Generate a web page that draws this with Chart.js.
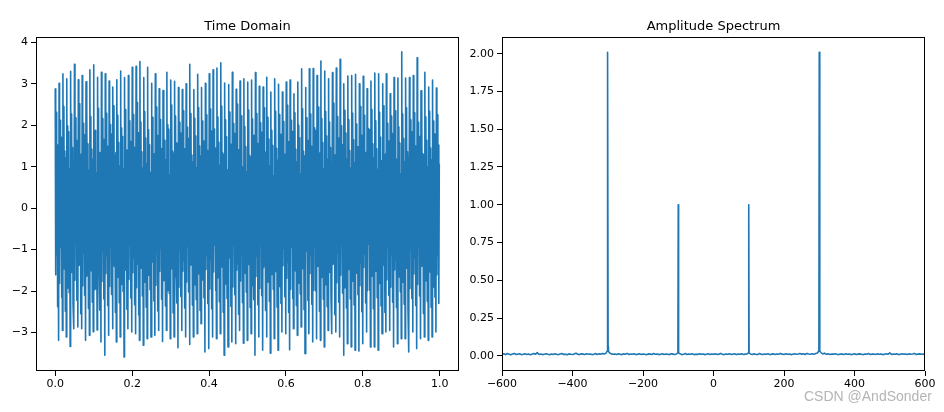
<!DOCTYPE html>
<html>
<head>
<meta charset="utf-8">
<script src="https://cdn.jsdelivr.net/npm/chart.js@4.4.0/dist/chart.umd.min.js"></script>
<style>
  body { margin: 0; background: #fff; }
  #wrap { position: relative; width: 944px; height: 412px; overflow: hidden; }
  .ttl { position: absolute; top: 17px; height: 18px; line-height: 18px; text-align: center;
         font-family: "DejaVu Sans", sans-serif; font-size: 13px; color: #000; }
  .box { position: absolute; top: 0; height: 412px; }
  #wm { position: absolute; left: 804px; top: 388px; font-family: "Liberation Sans", Arial, sans-serif;
        font-size: 14px; color: #b4b4b4; white-space: nowrap; }
</style>
</head>
<body>
<div id="wrap">
  <div class="box" style="left:0;width:470px"><canvas id="timeChart" width="470" height="412"></canvas></div>
  <div class="box" style="left:464px;width:480px"><canvas id="specChart" width="480" height="412"></canvas></div>
  <div class="ttl" style="left:36px;width:423px">Time Domain</div>
  <div class="ttl" style="left:502px;width:423px">Amplitude Spectrum</div>
  <div id="wm">CSDN @AndSonder</div>
</div>
<script>
// ---- time domain: one entry per 100 Hz cycle ----
const hiPeak = [
  2.88, 3.01, 3.24, 3.12, 3.30, 3.47, 3.10, 3.20, 3.05, 3.34, 3.46, 3.16, 3.28, 3.24, 3.07, 2.92, 3.10,
  3.31, 3.15, 3.20, 3.40, 3.42, 3.54, 3.15, 3.40, 3.01, 3.24, 2.88, 2.84, 3.28, 3.09, 3.06, 2.91,
  2.86, 3.00, 3.47, 2.86, 3.23, 2.91, 3.01, 3.24, 3.34, 3.38, 3.51, 3.02, 2.98, 3.28, 2.87, 3.07, 3.12,
  3.04, 3.09, 3.27, 2.94, 2.92, 3.16, 2.80, 3.12, 2.99, 2.80, 3.04, 3.09, 2.76, 3.04, 3.36, 2.91, 3.36,
  3.37, 3.20, 3.55, 3.31, 3.12, 3.27, 3.38, 3.59, 3.00, 3.19, 3.20, 3.23, 3.00, 3.18, 2.88, 3.07, 3.26,
  3.24, 3.00, 3.24, 2.76, 3.15, 3.14, 3.77, 3.14, 3.15, 3.20, 3.63, 2.83, 3.28, 2.92, 3.09, 2.90
];
const loPeak = [
  -3.19, -2.95, -3.11, -3.34, -2.91, -2.87, -2.91, -3.19, -3.07, -2.98, -2.94, -3.23, -3.55, -3.07,
  -2.91, -3.23, -3.11, -3.59, -2.91, -2.99, -3.03, -3.19, -3.31, -3.15, -3.11, -3.07, -2.95, -3.22,
  -2.95, -3.15, -3.11, -3.37, -2.95, -3.11, -3.29, -3.11, -3.03, -2.79, -3.47, -3.39, -3.11, -3.15,
  -3.03, -3.55, -3.35, -3.23, -3.27, -2.95, -3.26, -3.19, -3.03,
  -3.55, -3.11, -3.43, -3.11, -3.50, -3.15, -3.43, -2.99, -3.03, -3.42, -2.91, -3.07, -2.87, -3.51,
  -3.03, -3.23, -3.15, -3.19, -3.35, -2.95, -3.03, -2.99, -3.11, -3.55, -3.27, -3.35, -3.43, -3.45,
  -3.27, -2.99, -3.35, -3.35, -3.43, -3.03, -2.99, -2.95, -3.35, -3.27, -3.15, -3.15, -3.47, -2.99,
  -3.39, -3.15, -3.11, -3.19, -3.11, -2.99
];
const hiSecond = [
  2.31, 2.12, 2.45, 1.98, 2.27, 2.18, 2.52, 2.05, 2.36, 2.21, 1.86, 2.41, 2.16, 2.29, 2.02, 2.47, 2.24,
  1.93, 2.38, 2.11, 2.26, 2.55, 2.08, 2.33, 1.89, 2.19, 2.44, 2.14, 2.30, 2.01, 2.49, 2.22, 2.07, 2.35,
  1.95, 2.28, 2.17, 2.43, 2.10, 2.25, 2.39, 1.91, 2.20, 2.46, 2.13, 2.32, 2.04, 2.51, 2.23, 1.97, 2.37,
  2.15, 2.28, 2.06, 2.42, 2.19, 1.88, 2.34, 2.26, 2.09, 2.48, 2.12, 2.30, 2.00, 2.40, 2.18, 2.27, 1.94,
  2.44, 2.16, 2.33, 2.08, 2.53, 2.21, 1.99, 2.36, 2.14, 2.29, 2.03, 2.45, 2.24, 1.92, 2.38, 2.11, 2.31,
  2.47, 2.05, 2.22, 2.35, 1.96, 2.27, 2.42, 2.13, 2.30, 2.07, 2.50, 2.20, 2.34, 2.10, 2.25
];
const loSecond = [
  -2.38, -2.15, -2.49, -2.04, -2.31, -2.22, -2.55, -2.10, -2.42, -2.27, -1.95, -2.46, -2.19, -2.35,
  -2.08, -2.52, -2.28, -2.01, -2.44, -2.17, -2.33, -2.58, -2.12, -2.39, -1.97, -2.24, -2.48, -2.20,
  -2.36, -2.06, -2.53, -2.29, -2.13, -2.41, -2.02, -2.34, -2.21, -2.47, -2.16, -2.30, -2.43, -1.99,
  -2.26, -2.51, -2.18, -2.37, -2.09, -2.56, -2.28, -2.03, -2.40, -2.21, -2.33, -2.11, -2.47, -2.25,
  -1.96, -2.39, -2.30, -2.14, -2.52, -2.18, -2.35, -2.07, -2.45, -2.23, -2.32, -2.00, -2.49, -2.20,
  -2.38, -2.13, -2.57, -2.27, -2.05, -2.41, -2.19, -2.34, -2.09, -2.50, -2.29, -1.98, -2.43, -2.16,
  -2.36, -2.52, -2.10, -2.27, -2.40, -2.02, -2.32, -2.47, -2.18, -2.35, -2.12, -2.54, -2.25, -2.39,
  -2.15, -2.30
];
const hiThird = [
  1.52, 1.71, 1.38, 1.84, 1.46, 1.63, 1.29, 1.77, 1.55, 1.42, 1.88, 1.34, 1.66, 1.49, 1.79, 1.25, 1.58,
  1.73, 1.40, 1.61, 1.47, 1.82, 1.36, 1.69, 1.53, 1.31, 1.75, 1.44, 1.64, 1.90, 1.37, 1.57, 1.81, 1.43,
  1.68, 1.28, 1.74, 1.50, 1.62, 1.39, 1.86, 1.45, 1.59, 1.33, 1.72, 1.54, 1.80, 1.41, 1.65, 1.48, 1.27,
  1.76, 1.56, 1.83, 1.35, 1.67, 1.51, 1.44, 1.78, 1.30, 1.60, 1.85, 1.42, 1.70, 1.37, 1.63, 1.49, 1.87,
  1.32, 1.58, 1.74, 1.46, 1.26, 1.69, 1.53, 1.81, 1.39, 1.65, 1.48, 1.76, 1.34, 1.89, 1.55, 1.43, 1.71,
  1.29, 1.62, 1.80, 1.40, 1.57, 1.68, 1.36, 1.84, 1.50, 1.73, 1.31, 1.64, 1.45, 1.79, 1.52
];
const loThird = [
  -1.61, -1.82, -1.47, -1.93, -1.55, -1.74, -1.38, -1.88, -1.64, -1.51, -1.97, -1.43, -1.77, -1.58,
  -1.89, -1.35, -1.67, -1.84, -1.49, -1.72, -1.56, -1.92, -1.45, -1.79, -1.62, -1.40, -1.86, -1.53,
  -1.75, -1.99, -1.46, -1.66, -1.91, -1.52, -1.78, -1.37, -1.85, -1.59, -1.73, -1.48, -1.95, -1.54,
  -1.68, -1.42, -1.83, -1.63, -1.90, -1.50, -1.76, -1.57, -1.36, -1.87, -1.65, -1.94, -1.44, -1.78,
  -1.60, -1.53, -1.89, -1.39, -1.69, -1.96, -1.51, -1.81, -1.46, -1.74, -1.58, -1.98, -1.41, -1.67,
  -1.85, -1.55, -1.35, -1.80, -1.62, -1.92, -1.48, -1.76, -1.57, -1.87, -1.43, -1.99, -1.64, -1.52,
  -1.82, -1.38, -1.73, -1.91, -1.49, -1.66, -1.79, -1.45, -1.94, -1.59, -1.84, -1.40, -1.75, -1.54,
  -1.90, -1.61
];
const midHi = [
  1.05, 0.88, 1.21, 0.95, 1.12, 0.79, 1.30, 1.02, 0.91, 1.17, 0.84, 1.26, 0.98, 1.09, 0.87, 1.34, 1.01,
  0.93, 1.19, 0.82, 1.14, 1.28, 0.96, 1.07, 0.86, 1.23, 1.00, 0.90, 1.16, 0.80, 1.32, 1.04, 0.94, 1.20,
  0.85, 1.11, 0.97, 1.25, 0.89, 1.08, 1.18, 0.83, 1.03, 1.29, 0.92, 1.13, 0.81, 1.27, 0.99, 0.87, 1.22,
  0.95, 1.10, 0.84, 1.31, 1.02, 0.78, 1.15, 1.06, 0.91, 1.24, 0.88, 1.12, 0.82, 1.26, 0.97, 1.08, 0.86,
  1.33, 0.94, 1.17, 0.89, 1.28, 1.01, 0.83, 1.19, 0.96, 1.09, 0.85, 1.25, 1.04, 0.80, 1.21, 0.93, 1.14,
  1.30, 0.87, 1.06, 1.18, 0.82, 1.11, 1.23, 0.92, 1.13, 0.86, 1.29, 1.00, 1.16, 0.90, 1.07
];
const midLo = [
  -1.12, -0.94, -1.28, -1.01, -1.19, -0.86, -1.37, -1.08, -0.97, -1.24, -0.90, -1.33, -1.04, -1.15,
  -0.93, -1.41, -1.07, -0.99, -1.26, -0.88, -1.21, -1.35, -1.02, -1.13, -0.92, -1.30, -1.06, -0.96,
  -1.23, -0.87, -1.39, -1.10, -1.00, -1.27, -0.91, -1.18, -1.03, -1.32, -0.95, -1.14, -1.25, -0.89,
  -1.09, -1.36, -0.98, -1.20, -0.88, -1.34, -1.05, -0.93, -1.29, -1.01, -1.16, -0.90, -1.38, -1.08,
  -0.85, -1.22, -1.12, -0.97, -1.31, -0.94, -1.19, -0.89, -1.33, -1.03, -1.14, -0.92, -1.40, -1.00,
  -1.24, -0.95, -1.35, -1.07, -0.90, -1.26, -1.02, -1.15, -0.91, -1.32, -1.11, -0.87, -1.28, -0.99,
  -1.21, -1.37, -0.93, -1.12, -1.25, -0.88, -1.17, -1.30, -0.98, -1.20, -0.92, -1.36, -1.06, -1.23,
  -0.96, -1.13
];
const timeXTicks = [0, 0.2, 0.4, 0.6, 0.8, 1.0];
const timeYTicks = [-3, -2, -1, 0, 1, 2, 3, 4];

// ---- amplitude spectrum ----
const floorStart = -600; // Hz, floor read every 5 Hz
const floorStep = 5;
const floorAmps = [
  0.010, 0.013, 0.008, 0.015, 0.011, 0.007, 0.012, 0.016, 0.009, 0.011,
  0.014, 0.008, 0.010, 0.013, 0.009, 0.012, 0.007, 0.011, 0.015, 0.010,
  0.021, 0.009, 0.012, 0.008, 0.011, 0.014, 0.010, 0.007, 0.012, 0.009,
  0.013, 0.010, 0.008, 0.012, 0.015, 0.009, 0.011, 0.007, 0.013, 0.010,
  0.009, 0.012, 0.018, 0.010, 0.008, 0.013, 0.011, 0.009, 0.014, 0.010,
  0.012, 0.008, 0.011, 0.015, 0.009, 0.013, 0.010, 0.016, 0.012, 0.018,
  0.025, 0.020, 0.013, 0.010, 0.012, 0.009, 0.014, 0.011, 0.008, 0.013,
  0.010, 0.016, 0.009, 0.012, 0.010, 0.014, 0.008, 0.011, 0.013, 0.009,
  0.012, 0.010, 0.007, 0.013, 0.011, 0.009, 0.015, 0.010, 0.012, 0.008,
  0.011, 0.014, 0.009, 0.012, 0.010, 0.008, 0.013, 0.011, 0.009, 0.012,
  0.010, 0.013, 0.008, 0.011, 0.015, 0.009, 0.012, 0.010, 0.014, 0.008,
  0.011, 0.009, 0.013, 0.010, 0.012, 0.008, 0.011, 0.014, 0.009, 0.012,
  0.010, 0.013, 0.009, 0.011, 0.016, 0.010, 0.008, 0.012, 0.010, 0.013,
  0.009, 0.011, 0.014, 0.008, 0.012, 0.010, 0.013, 0.009, 0.011, 0.012,
  0.010, 0.012, 0.009, 0.013, 0.010, 0.008, 0.015, 0.011, 0.009, 0.012,
  0.010, 0.014, 0.008, 0.011, 0.013, 0.009, 0.012, 0.010, 0.016, 0.011,
  0.009, 0.013, 0.010, 0.012, 0.008, 0.011, 0.014, 0.010, 0.012, 0.015,
  0.011, 0.013, 0.009, 0.016, 0.012, 0.010, 0.014, 0.011, 0.015, 0.019,
  0.025, 0.022, 0.012, 0.018, 0.010, 0.013, 0.009, 0.012, 0.011, 0.014,
  0.010, 0.008, 0.012, 0.011, 0.009, 0.013, 0.010, 0.012, 0.008, 0.011,
  0.014, 0.009, 0.011, 0.013, 0.010, 0.008, 0.012, 0.010, 0.015, 0.009,
  0.011, 0.012, 0.009, 0.013, 0.010, 0.012, 0.008, 0.011, 0.014, 0.010,
  0.019, 0.009, 0.012, 0.010, 0.013, 0.008, 0.011, 0.014, 0.010, 0.012,
  0.009, 0.013, 0.010, 0.012, 0.016, 0.009, 0.011, 0.013, 0.010, 0.012,
  0.011
];
const peakFreqs = [-302, -301, -300, -299, -298, -101, -100, -99, 99, 100, 101, 298, 299, 300, 301, 302];
const peakAmps = [0.03, 0.06, 2.01, 0.06, 0.03, 0.02, 1.0, 0.02, 0.02, 1.0, 0.02, 0.03, 0.06, 2.01, 0.06, 0.03];
const specXTicks = [-600, -400, -200, 0, 200, 400, 600];
const specYTicks = [0, 0.25, 0.5, 0.75, 1.0, 1.25, 1.5, 1.75, 2.0];

const BLUE = "#1f77b4";
const tickFont = { family: "DejaVu Sans", size: 11 };
const minus = (s) => s.replace("-", "\u2212");

// build the time series: 8 samples per cycle
const timeSeries = [];
const perCycle = [hiPeak, loThird, hiSecond, midLo, hiThird, loSecond, midHi, loPeak];
const nPts = hiPeak.length * perCycle.length;
for (let c = 0; c < hiPeak.length; c++) {
  perCycle.forEach((arr, k) => {
    const j = c * perCycle.length + k;
    timeSeries.push({ x: j / (nPts - 1), y: arr[c] });
  });
}

// build spectrum: floor points except where a peak sits, then sort
const specSeries = [];
floorAmps.forEach((a, i) => {
  const f = floorStart + i * floorStep;
  if (!peakFreqs.includes(f)) specSeries.push({ x: f, y: a });
});
peakFreqs.forEach((f, i) => specSeries.push({ x: f, y: peakAmps[i] }));
specSeries.sort((a, b) => a.x - b.x);

// frame on all four sides, like matplotlib spines
const framePlugin = {
  id: "frame",
  afterDraw(chart) {
    const { ctx, chartArea: a } = chart;
    ctx.save();
    ctx.strokeStyle = "#000";
    ctx.lineWidth = 1;
    ctx.strokeRect(Math.round(a.left) + 0.5, Math.round(a.top) + 0.5,
      Math.round(a.right - a.left) - 1, Math.round(a.bottom - a.top) - 1);
    ctx.restore();
  },
};

function makeChart(id, data, opts) {
  return new Chart(document.getElementById(id).getContext("2d"), {
    type: "line",
    data: {
      datasets: [{
        data,
        borderColor: BLUE,
        borderWidth: 1.6,
        borderJoinStyle: "round",
        pointRadius: 0,
        tension: 0,
        fill: false,
      }],
    },
    options: {
      responsive: false,
      animation: false,
      events: [],
      layout: { padding: { left: 0, right: opts.padRight, top: 37, bottom: 0 } },
      plugins: { legend: { display: false }, tooltip: { enabled: false } },
      scales: {
        x: {
          type: "linear",
          min: opts.xMin,
          max: opts.xMax,
          border: { display: false },
          grid: { drawOnChartArea: false, drawTicks: true, tickLength: 5, color: "#000" },
          afterBuildTicks: (s) => { s.ticks = opts.xTicks.map((v) => ({ value: v })); },
          afterFit: (s) => { s.height = 41; },
          ticks: { font: tickFont, color: "#000", padding: 2, maxRotation: 0, callback: opts.xFmt },
        },
        y: {
          type: "linear",
          min: opts.yMin,
          max: opts.yMax,
          border: { display: false },
          grid: { drawOnChartArea: false, drawTicks: true, tickLength: 5, color: "#000" },
          afterBuildTicks: (s) => { s.ticks = opts.yTicks.map((v) => ({ value: v })); },
          afterFit: (s) => { s.width = opts.yWidth; },
          ticks: { font: tickFont, color: "#000", padding: 3, callback: opts.yFmt },
        },
      },
    },
    plugins: [framePlugin],
  });
}

makeChart("timeChart", timeSeries, {
  padRight: 11, yWidth: 36,
  xMin: -0.05, xMax: 1.05, yMin: -3.93, yMax: 4.13,
  xTicks: timeXTicks, yTicks: timeYTicks,
  xFmt: (v) => v.toFixed(1),
  yFmt: (v) => minus(String(v)),
});

makeChart("specChart", specSeries, {
  padRight: 19, yWidth: 38,
  xMin: -600, xMax: 600, yMin: -0.1005, yMax: 2.1105,
  xTicks: specXTicks, yTicks: specYTicks,
  xFmt: (v) => minus(String(v)),
  yFmt: (v) => v.toFixed(2),
});
</script>
</body>
</html>
